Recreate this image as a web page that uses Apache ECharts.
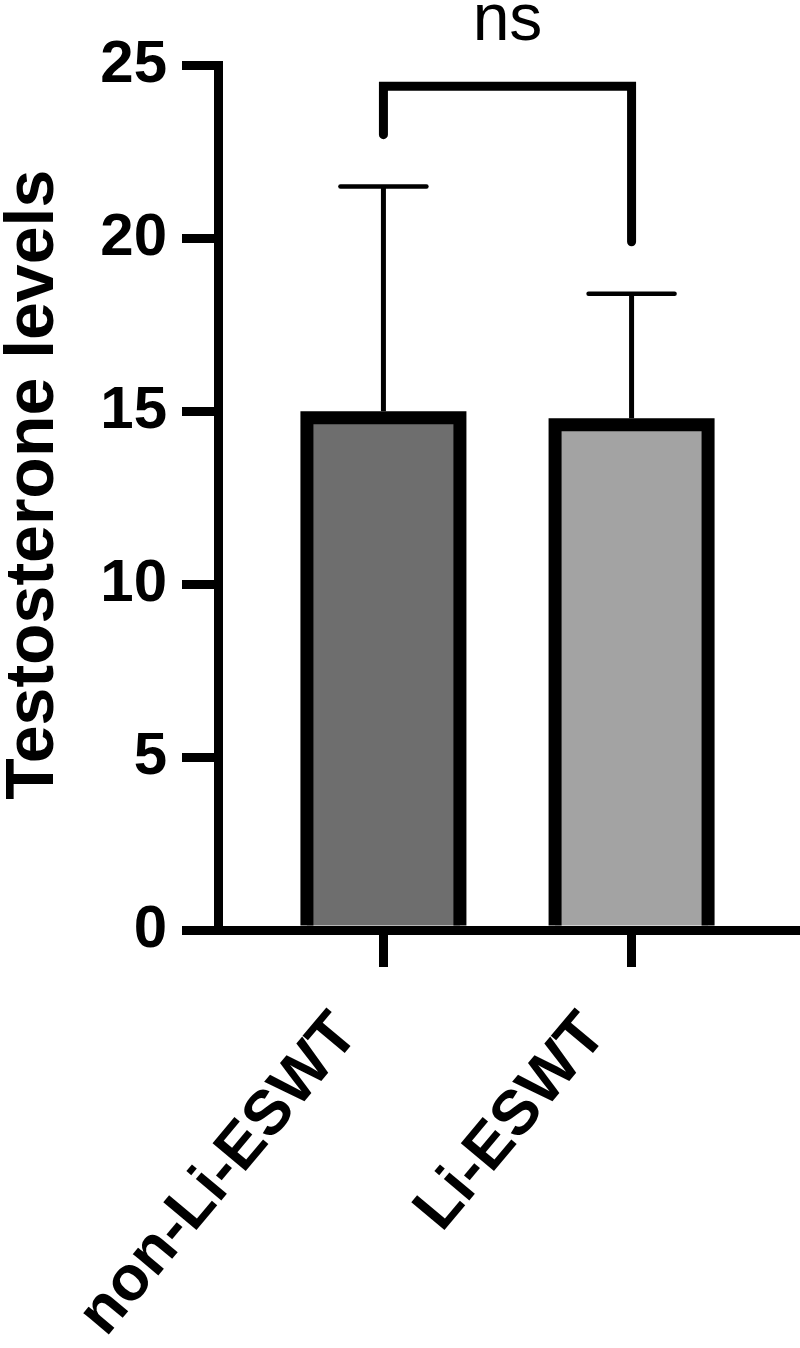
<!DOCTYPE html>
<html lang="en">
<head>
<meta charset="UTF-8">
<title>Testosterone levels</title>
<script src="https://cdn.jsdelivr.net/npm/echarts@6/dist/echarts.min.js"></script>
<style>
  html, body { margin: 0; background: #fff; }
  #chart { width: 800px; height: 1348px; }
</style>
</head>
<body>
<div id="chart"></div>
<script>
// groups and their values (mean, SD)
const categories = ['non-Li-ESWT', 'Li-ESWT'];
const means = [15.0, 14.8];
const sds = [6.5, 3.6];
// significance bracket: left end, top, right end
const bracketLevels = [23.0, 24.4, 19.9];
const bracketLabel = 'ns';

// layout: where each group sits on the numeric x axis, and styling
const groupPos = [1, 2.5];
const barFill = ['#6e6e6e', '#a3a3a3'];
const BAR_W = 166, BORDER = 13, CAP_W = 86, AXIS_W = 9;
const FONT = '"Liberation Sans", Arial, sans-serif';

const barData = categories.map((c, i) => [groupPos[i], means[i], sds[i], i]);
const bracketData = [[groupPos[0], groupPos[1]].concat(bracketLevels)];

function renderBar(params, api) {
  const x = api.value(0), m = api.value(1), idx = api.value(3);
  const top = api.coord([x, m]);
  const base = api.coord([x, 0])[1] - AXIS_W / 2; // stop at axis line edge
  const h = BORDER / 2;
  const l = top[0] - BAR_W / 2 + h, r = top[0] + BAR_W / 2 - h, t = top[1] + h;
  return {
    type: 'group',
    children: [
      { type: 'rect', shape: { x: l, y: t, width: r - l, height: base - t }, style: { fill: barFill[idx] } },
      { type: 'polyline', shape: { points: [[l, base], [l, t], [r, t], [r, base]] },
        style: { stroke: '#000', lineWidth: BORDER, fill: null, lineJoin: 'miter' } }
    ]
  };
}

function renderError(params, api) {
  const x = api.value(0), m = api.value(1), sd = api.value(2);
  const p0 = api.coord([x, m]);
  const p1 = api.coord([x, m + sd]);
  return {
    type: 'group',
    children: [
      { type: 'line', shape: { x1: p0[0], y1: p0[1], x2: p1[0], y2: p1[1] }, style: { stroke: '#000', lineWidth: 5 } },
      { type: 'line', shape: { x1: p1[0] - CAP_W / 2, y1: p1[1], x2: p1[0] + CAP_W / 2, y2: p1[1] },
        style: { stroke: '#000', lineWidth: 4.5, lineCap: 'round' } }
    ]
  };
}

function renderBracket(params, api) {
  const x1 = api.value(0), x2 = api.value(1);
  const a = api.coord([x1, api.value(2)]);
  const b = api.coord([x1, api.value(3)]);
  const c = api.coord([x2, api.value(3)]);
  const d = api.coord([x2, api.value(4)]);
  return {
    type: 'group',
    children: [
      { type: 'polyline', shape: { points: [a, b, c, d] },
        style: { stroke: '#000', lineWidth: 9, fill: null, lineCap: 'round', lineJoin: 'miter' } },
      { type: 'text', x: (b[0] + c[0]) / 2, y: b[1] - 31,
        style: { text: bracketLabel, fill: '#000', font: '66px ' + FONT, align: 'center', verticalAlign: 'bottom' } }
    ]
  };
}

const option = {
  animation: false,
  backgroundColor: '#fff',
  grid: { left: 218, right: 3, top: 65.5, bottom: 418, containLabel: false, outerBoundsMode: 'none' },
  xAxis: {
    type: 'value',
    min: 0,
    max: 3.5,
    splitLine: { show: false },
    axisLine: { show: true, lineStyle: { color: '#000', width: AXIS_W, cap: 'square' } },
    axisTick: { show: true, customValues: groupPos, length: 37, lineStyle: { color: '#000', width: AXIS_W } },
    axisLabel: {
      customValues: groupPos,
      formatter: v => categories[groupPos.indexOf(v)] || '',
      rotate: 50,
      margin: 50,
      padding: [0, 57, 0, 0],
      color: '#000',
      fontSize: 63,
      fontWeight: 'bold',
      fontFamily: FONT
    }
  },
  yAxis: {
    type: 'value',
    min: 0,
    max: 25,
    interval: 5,
    name: 'Testosterone levels',
    nameLocation: 'middle',
    nameRotate: 90,
    nameGap: 150,
    nameTextStyle: { color: '#000', fontSize: 68, fontWeight: 'bold', fontFamily: FONT, padding: [0, 0, 0, 26] },
    splitLine: { show: false },
    axisLine: { show: true, lineStyle: { color: '#000', width: AXIS_W, cap: 'square' } },
    axisTick: { show: true, length: 36, lineStyle: { color: '#000', width: AXIS_W } },
    axisLabel: { margin: 51, color: '#000', fontSize: 60, fontWeight: 'bold', fontFamily: FONT }
  },
  series: [
    { type: 'custom', name: 'bars', renderItem: renderBar, data: barData,
      encode: { x: 0, y: 1 } },
    { type: 'custom', name: 'error', renderItem: renderError, data: barData,
      encode: { x: 0, y: 1 } },
    { type: 'custom', name: 'bracket', renderItem: renderBracket, data: bracketData,
      encode: { x: [0, 1], y: [2, 3, 4] } }
  ]
};

const chart = echarts.init(document.getElementById('chart'));
chart.setOption(option);
</script>
</body>
</html>
